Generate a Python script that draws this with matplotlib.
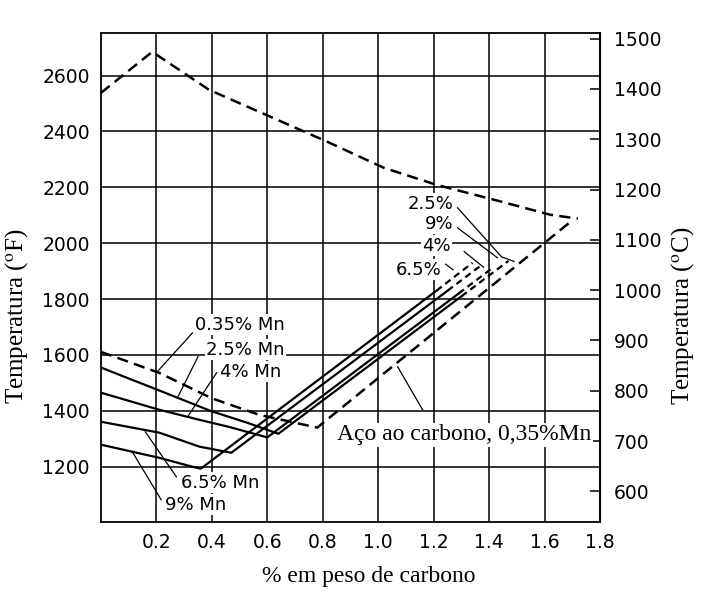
import matplotlib.pyplot as plt

plt.rcParams['font.family'] = 'DejaVu Sans'
plt.rcParams['mathtext.fontset'] = 'stix'

# aço ao carbono, 0,35% Mn (linhas tracejadas)
topo_c = [0, 0.185, 0.39, 0.81, 1.02, 1.21, 1.42, 1.62, 1.72]
topo_f = [2538, 2685, 2549, 2366, 2270, 2209, 2155, 2102, 2088]
carbono_c = [0, 0.21, 0.40, 0.57, 0.78, 1.70]
carbono_f = [1611, 1536, 1445, 1386, 1340, 2082]

# ligas com Mn: ramo esquerdo até o eutetóide, depois a subida (parte sólida + ponta tracejada)
mn25_esq_c = [0, 0.2, 0.4, 0.52, 0.64]
mn25_esq_f = [1555, 1477, 1398, 1360, 1318]
mn25_sub_c = [0.64, 1.30, 1.47]
mn25_sub_f = [1318, 1810, 1937]

mn4_esq_c = [0, 0.21, 0.355, 0.46, 0.60]
mn4_esq_f = [1465, 1404, 1368, 1343, 1305]
mn4_sub_c = [0.60, 1.29, 1.41]
mn4_sub_f = [1305, 1820, 1910]

mn65_esq_c = [0, 0.21, 0.355, 0.47]
mn65_esq_f = [1361, 1322, 1272, 1250]
mn65_sub_c = [0.47, 1.25, 1.37]
mn65_sub_f = [1250, 1830, 1920]

mn9_esq_c = [0, 0.21, 0.33, 0.36]
mn9_esq_f = [1279, 1232, 1200, 1193]
mn9_sub_c = [0.36, 1.21, 1.34]
mn9_sub_f = [1193, 1830, 1930]

# rótulos: texto, posição do texto, linha de chamada
rotulos = ['0.35% Mn', '2.5% Mn', '4% Mn', '6.5% Mn', '9% Mn']
rot_pos = [(0.34, 1708), (0.38, 1619), (0.43, 1540), (0.29, 1143), (0.23, 1064)]
rot_linhas = [[(0.33, 1679), (0.203, 1540)],
              [(0.35, 1594), (0.275, 1445)],
              [(0.417, 1536), (0.312, 1378)],
              [(0.272, 1164), (0.16, 1325)],
              [(0.217, 1082), (0.112, 1255)]]

rot_topo = ['2.5%', '9%', '4%', '6.5%']
rot_topo_pos = [(1.19, 2141), (1.22, 2069), (1.21, 1991), (1.145, 1905)]
rot_topo_linhas = [[(1.286, 2127), (1.445, 1951), (1.49, 1935)],
                   [(1.286, 2055), (1.43, 1948)],
                   [(1.31, 1970), (1.38, 1914)],
                   [(1.243, 1925), (1.27, 1905)]]

fig = plt.figure(figsize=(7.01, 5.97), dpi=100)
ax = fig.add_axes([0.144, 0.126, 0.712, 0.819])

ax.set_xlim(0, 1.8)
ax.set_ylim(1003, 2753)
ax.set_xticks([0.2, 0.4, 0.6, 0.8, 1.0, 1.2, 1.4, 1.6, 1.8])
ax.set_xticklabels(['0.2', '0.4', '0.6', '0.8', '1.0', '1.2', '1.4', '1.6', '1.8'])
ax.set_yticks(range(1200, 2601, 200))
ax.tick_params(axis='both', length=0, labelsize=13.5, pad=8)
ax.grid(True, color='black', lw=1.1)
for s in ax.spines.values():
    s.set_linewidth(1.3)

tr = dict(color='black', lw=1.8, dashes=(4.5, 2.5))
ax.plot(topo_c, topo_f, **tr)
ax.plot(carbono_c, carbono_f, **tr)

for esq_c, esq_f, sub_c, sub_f in [(mn25_esq_c, mn25_esq_f, mn25_sub_c, mn25_sub_f),
                                   (mn4_esq_c, mn4_esq_f, mn4_sub_c, mn4_sub_f),
                                   (mn65_esq_c, mn65_esq_f, mn65_sub_c, mn65_sub_f),
                                   (mn9_esq_c, mn9_esq_f, mn9_sub_c, mn9_sub_f)]:
    ax.plot(esq_c + sub_c[1:2], esq_f + sub_f[1:2], color='black', lw=1.6)
    ax.plot(sub_c[1:], sub_f[1:], color='black', lw=1.6, dashes=(3, 2))

bbox = dict(facecolor='white', edgecolor='none', pad=1)
for txt, (x, y), lin in zip(rotulos, rot_pos, rot_linhas):
    ax.text(x, y, txt, fontsize=13, ha='left', va='center', bbox=bbox, zorder=4)
    ax.plot([p[0] for p in lin], [p[1] for p in lin], color='black', lw=0.9, zorder=5)

for txt, (x, y), lin in zip(rot_topo, rot_topo_pos, rot_topo_linhas):
    ax.text(x, y, txt, fontsize=13, ha='center', va='center', bbox=bbox, zorder=4)
    ax.plot([p[0] for p in lin], [p[1] for p in lin], color='black', lw=0.9, zorder=5)

ax.text(1.31, 1315, 'Aço ao carbono, 0,35%Mn', fontsize=17, family='Liberation Serif',
        ha='center', va='center', bbox=bbox, zorder=4)
ax.plot([1.07, 1.16], [1558, 1404], color='black', lw=0.9, zorder=5)

ax.set_xlabel('% em peso de carbono', family='Liberation Serif', fontsize=17)
ax.xaxis.set_label_coords(0.537, -0.09)
ax.set_ylabel('Temperatura ($^{\\rm o}$F)', family='Liberation Serif', fontsize=18)
ax.yaxis.set_label_coords(-0.142, 0.42)

sec = ax.secondary_yaxis('right', functions=(lambda f: (f - 32) / 1.8, lambda c: c * 1.8 + 32))
sec.set_yticks(range(600, 1501, 100))
sec.tick_params(direction='in', length=7, width=1.1, labelsize=13.5, pad=10)
fig.text(683 / 701, 1 - 316 / 597, 'Temperatura ($^{\\rm o}$C)', family='Liberation Serif',
         fontsize=18, rotation=90, ha='center', va='center')

fig.savefig('out.png', dpi=100)
